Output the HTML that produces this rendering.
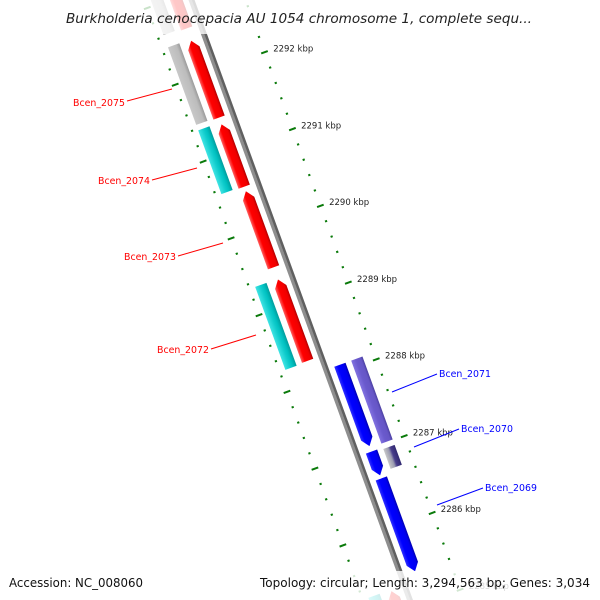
<!DOCTYPE html>
<html><head><meta charset="utf-8"><style>
html,body{margin:0;padding:0;background:#fff;width:600px;height:600px;overflow:hidden;}
svg{display:block;font-family:"DejaVu Sans","Liberation Sans",sans-serif;}
</style></head><body>
<svg id="map" width="600" height="600" viewBox="0 0 600 600">
<defs>
<linearGradient id="gRed" x1="0" x2="1" y1="0" y2="0"><stop offset="0" stop-color="#ff6060"/><stop offset="0.3" stop-color="#ff0000"/><stop offset="0.8" stop-color="#f00000"/><stop offset="1" stop-color="#b00000"/></linearGradient>
<linearGradient id="gCyan" x1="0" x2="1" y1="0" y2="0"><stop offset="0" stop-color="#40e4e4"/><stop offset="0.45" stop-color="#10cccc"/><stop offset="0.7" stop-color="#00c0c0"/><stop offset="1" stop-color="#009c9c"/></linearGradient>
<linearGradient id="gBlue" x1="0" x2="1" y1="0" y2="0"><stop offset="0" stop-color="#3030ff"/><stop offset="0.3" stop-color="#0000ff"/><stop offset="0.8" stop-color="#0000f0"/><stop offset="1" stop-color="#0000b0"/></linearGradient>
<linearGradient id="gPurple" x1="0" x2="1" y1="0" y2="0"><stop offset="0" stop-color="#8272e0"/><stop offset="0.4" stop-color="#6a5acd"/><stop offset="0.8" stop-color="#6656c6"/><stop offset="1" stop-color="#4a3ea0"/></linearGradient>
<linearGradient id="gGray" x1="0" x2="1" y1="0" y2="0"><stop offset="0" stop-color="#c8c8c8"/><stop offset="0.7" stop-color="#bcbcbc"/><stop offset="1" stop-color="#9a9a9a"/></linearGradient>
<linearGradient id="gSlate" x1="0" x2="1" y1="0" y2="0"><stop offset="0" stop-color="#c8c8c8"/><stop offset="0.4" stop-color="#9a9ab0"/><stop offset="0.6" stop-color="#483d8b"/><stop offset="1" stop-color="#302870"/></linearGradient>
</defs>
<g id="band" transform="translate(217.5,69.4) rotate(-20)"></g>
<g id="ticklabels"></g>
<g id="labels"></g>
<rect x="0" y="0" width="600" height="34" fill="#fff" fill-opacity="0.78"/>
<rect x="0" y="571" width="600" height="29" fill="#fff" fill-opacity="0.82"/>
<text x="299" y="23" text-anchor="middle" font-size="13" font-style="italic" fill="#222" textLength="466" lengthAdjust="spacingAndGlyphs">Burkholderia cenocepacia AU 1054 chromosome 1, complete sequ...</text>
<text x="9" y="587" font-size="12" fill="#111" textLength="134" lengthAdjust="spacingAndGlyphs">Accession: NC_008060</text>
<text x="260" y="587" font-size="12" fill="#111" textLength="330" lengthAdjust="spacingAndGlyphs">Topology: circular; Length: 3,294,563 bp; Genes: 3,034</text>
</svg>
<script>
// data
const originKbp = 2292;
const geneStarts = [2294.45, 2294.45, 2292.46, 2292.44, 2291.38, 2291.35, 2290.48, 2289.33, 2289.34, 2288.09, 2288.09, 2286.96, 2286.94, 2286.61, 2285.29, 2285.27];
const geneEnds   = [2292.62, 2292.60, 2291.45, 2291.44, 2290.55, 2290.54, 2289.49, 2288.27, 2288.26, 2287.03, 2287.01, 2286.65, 2286.68, 2285.40, 2283.43, 2283.43];
const geneTracks = ["cyan","red","cyan","red","cyan","red","red","red","cyan","blue","purple","blue","purple","blue","cyan","red"];
const geneFills  = ["gGray","gRed","gGray","gRed","gCyan","gRed","gRed","gRed","gCyan","gBlue","gPurple","gBlue","gSlate","gBlue","gCyan","gRed"];
const majorTicks = [2293, 2292, 2291, 2290, 2289, 2288, 2287, 2286, 2285, 2284];
const tickLabels = ["2293 kbp","2292 kbp","2291 kbp","2290 kbp","2289 kbp","2288 kbp","2287 kbp","2286 kbp","2285 kbp","2284 kbp"];
const labelNames = ["Bcen_2075","Bcen_2074","Bcen_2073","Bcen_2072","Bcen_2071","Bcen_2070","Bcen_2069"];

const PX_PER_KBP = 81.7;
const trackV = {cyan:[-39,-27], red:[-21,-9], blue:[8,20], purple:[26,38]};
const headed = {red:-1, blue:1};
const NS = "http://www.w3.org/2000/svg";
const S = k => (originKbp - k) * PX_PER_KBP;
const C = Math.cos(20*Math.PI/180), SN = Math.sin(20*Math.PI/180);
const toScreen = (v,s) => [217.5 + v*C + s*SN, 69.4 - v*SN + s*C];
const band = document.getElementById('band');

function mk(tag, attrs, parent){
  const el = document.createElementNS(NS, tag);
  for (const k in attrs) el.setAttribute(k, attrs[k]);
  parent.appendChild(el);
  return el;
}

// backbone
let bb = mk('rect', {x:-3.5, y:-300, width:3.2, height:1200, fill:'#8e8e8e'}, band);


let bb2 = mk('rect', {x:-0.4, y:-300, width:2.6, height:1200, fill:'#606060'}, band);



// ticks (outer and inner rings), every 0.2 kbp
for (let i = 0; i <= 60; i++) {
  const k = 2295 - i*0.2;
  const s = S(k);
  const major = Math.abs(k - Math.round(k)) < 1e-6;
  [50, -45].forEach(v0 => {
    const t = major ? mk('rect', {x:v0-3.5, y:s-1, width:7, height:2, fill:'#0a7a0a'}, band)
                    : mk('rect', {x:v0-1, y:s-1, width:2.2, height:2, fill:'#0a7a0a'}, band);
    
    
  });
}
const tl = document.getElementById('ticklabels');
majorTicks.forEach((k, i) => {
  const p = toScreen(55, S(k));
  const t = mk('text', {x:(p[0]+4).toFixed(1), y:(p[1]+1).toFixed(1), 'font-size':'8.5', fill:'#222'}, tl);
  
  
  t.textContent = tickLabels[i];
});

// genes
geneStarts.forEach((ks, i) => {
  const s0 = S(ks), s1 = S(geneEnds[i]);
  const tr = geneTracks[i];
  const [v1, v2] = trackV[tr];
  const vc = (v1+v2)/2, h = 8;
  let pts;
  if (headed[tr] === -1) pts = [[v1,s0+h],[vc,s0],[v2,s0+h],[v2,s1],[v1,s1]];
  else if (headed[tr] === 1) pts = [[v1,s0],[v2,s0],[v2,s1-h],[vc,s1],[v1,s1-h]];
  else pts = [[v1,s0],[v2,s0],[v2,s1],[v1,s1]];
  const g = mk('polygon', {points: pts.map(p => p[0].toFixed(1)+','+p[1].toFixed(1)).join(' '), fill:'url(#'+geneFills[i]+')'}, band);
  
  
});

// gene labels
const labelPos = [[73,106,127,101,172,89,'#f00'],[98,184,152,180,197,168,'#f00'],[124,260,178,256,223,243,'#f00'],[157,353,211,349,256,335,'#f00'],
                  [439,377,437,374,392,392,'#00f'],[461,432,459,429,414,447,'#00f'],[485,491,483,488,437,505,'#00f']];
const lg = document.getElementById('labels');
labelNames.forEach((n, i) => {
  const p = labelPos[i];
  const l = mk('line', {x1:p[2], y1:p[3], x2:p[4], y2:p[5], stroke:p[6], 'stroke-width':1}, lg);
  
  
  const t = mk('text', {x:p[0], y:p[1], 'font-size':'9.5', fill:p[6], textLength:52, lengthAdjust:'spacingAndGlyphs'}, lg);
  
  
  t.textContent = n;
});
</script>
</body></html>
